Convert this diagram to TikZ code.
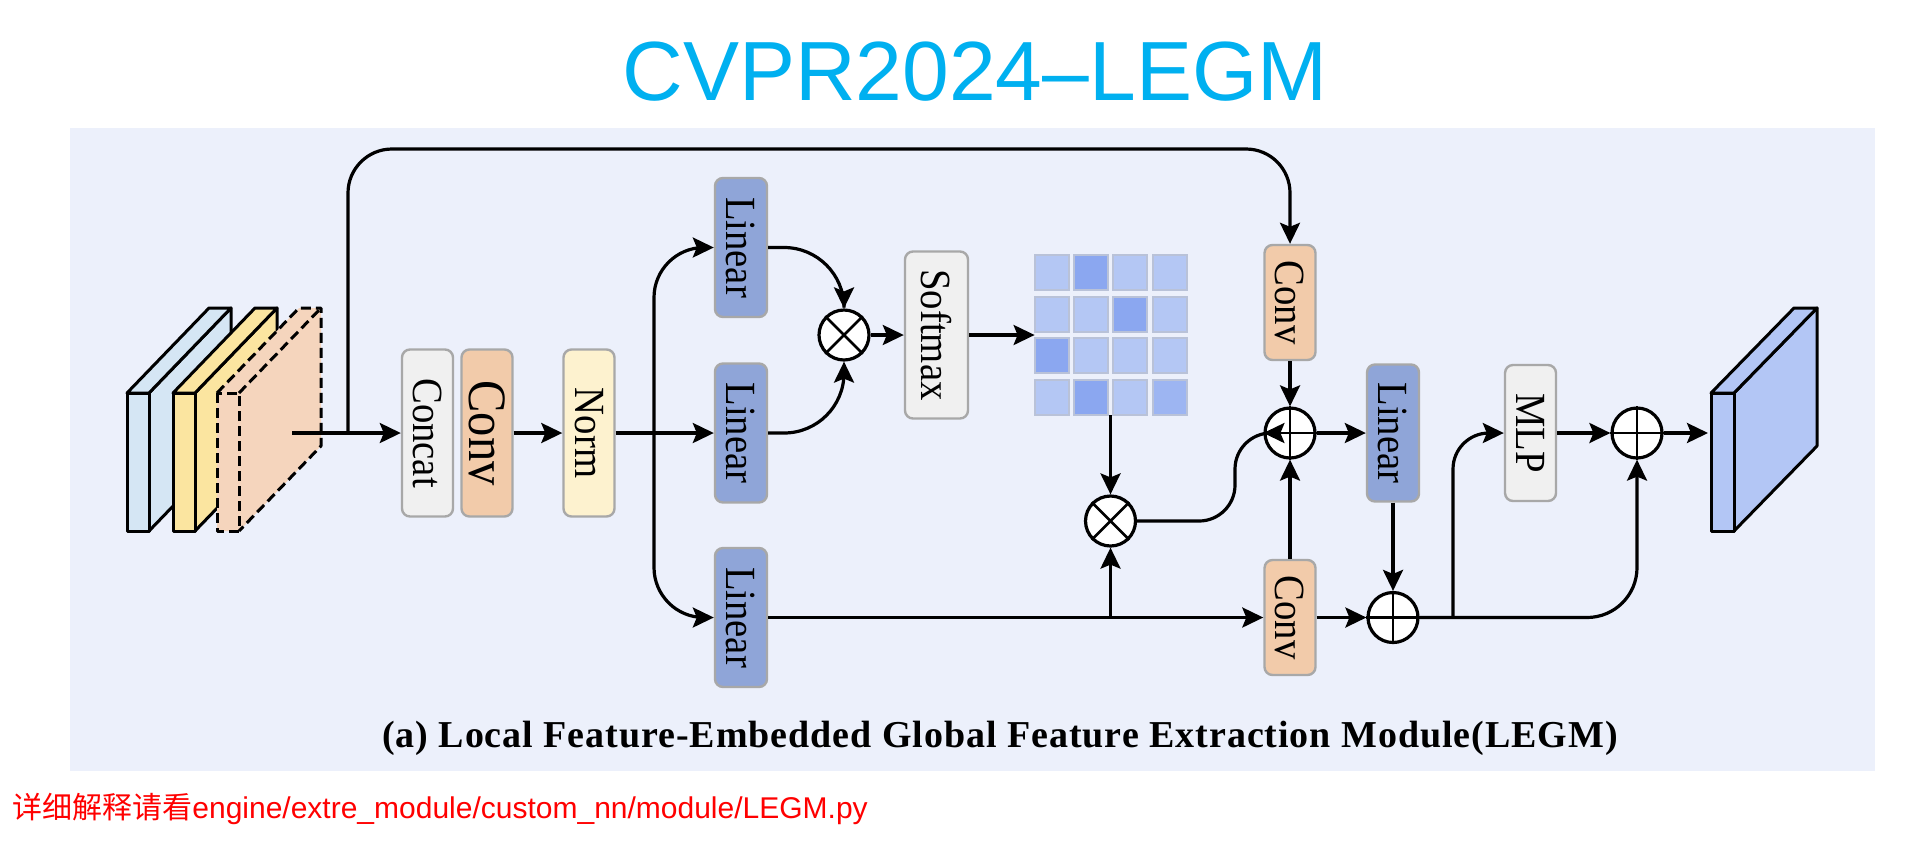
\documentclass[tikz,border=0pt]{standalone}
\usepackage{fontspec}
\setmainfont{Liberation Serif}
\newfontfamily\boxfont{Liberation Serif}[FakeStretch=0.9]
\newfontfamily\capfont{Liberation Serif}[LetterSpace=2.5]
\newfontfamily\titlefont{Liberation Sans}
\newfontfamily\redlat{Liberation Sans}
\newfontfamily\cjk{Noto Sans CJK SC}
\usetikzlibrary{arrows.meta}
\definecolor{panelbg}{HTML}{ECF0FB}
\definecolor{titlecol}{HTML}{00B0F0}
\definecolor{boxborder}{HTML}{A8A8A8}
\definecolor{grayfill}{HTML}{F0F0F0}
\definecolor{convfill}{HTML}{F2CBAA}
\definecolor{normfill}{HTML}{FDF2CF}
\definecolor{linfill}{HTML}{8FA5D8}
\definecolor{slabblue}{HTML}{D5E6F4}
\definecolor{slabyellow}{HTML}{FBE5A0}
\definecolor{slaborange}{HTML}{F5D5BD}
\definecolor{slabout}{HTML}{B3C6F5}
\definecolor{cellL}{HTML}{B4C7F4}
\definecolor{cellD}{HTML}{8BA7F0}
\definecolor{cellM}{HTML}{9DB5F2}
\definecolor{cellborder}{HTML}{B9C2D8}
\begin{document}
\begin{tikzpicture}[x=0.5pt,y=-0.5pt,
  arr/.style={-{Stealth[length=10.5pt,width=10pt,inset=2pt]}, line width=1.6pt},
  plain/.style={line width=1.6pt},
  blk/.style={draw=boxborder, line width=1.2pt, rounded corners=4pt, inner sep=0pt,
    font=\boxfont\fontsize{21.5pt}{24pt}\selectfont},
  tall/.style={blk, minimum width=25.5pt, minimum height=83.5pt},
  lin/.style={blk, fill=linfill, minimum width=26pt, minimum height=69.5pt},
  short/.style={blk, fill=convfill, minimum width=25.5pt, minimum height=57.5pt},
  opc/.style={circle, draw, fill=white, line width=1.6pt, minimum size=25pt, inner sep=0pt},
  slab/.style={line width=1.5pt, line join=round},
  dslab/.style={line width=1.5pt, dash pattern=on 5pt off 2.5pt, line join=round}
]
\useasboundingbox (0,0) rectangle (1930,848);
\fill[white] (0,0) rectangle (1930,848);
\fill[panelbg] (70,128) rectangle (1875,771);

% title
\node[anchor=base, text=titlecol, font=\titlefont\fontsize{42pt}{48pt}\selectfont, inner sep=0pt] (title) at (975,100) {CVPR2024–LEGM};

% input slabs
\filldraw[slab, fill=slabblue] (149,393) -- (231,308) -- (231,446) -- (149,531) -- cycle;
\filldraw[slab, fill=slabblue] (127,393) -- (209,308) -- (231,308) -- (149,393) -- cycle;
\filldraw[slab, fill=slabblue] (127,393) rectangle (149,531);
\filldraw[slab, fill=slabyellow] (195,393) -- (277,308) -- (277,446) -- (195,531) -- cycle;
\filldraw[slab, fill=slabyellow] (173,393) -- (255,308) -- (277,308) -- (195,393) -- cycle;
\filldraw[slab, fill=slabyellow] (173,393) rectangle (195,531);
\fill[slaborange] (217,393) -- (299,308) -- (321,308) -- (321,446) -- (239,531) -- (217,531) -- cycle;
\draw[dslab] (217,393) rectangle (239,531);
\draw[dslab] (217,393) -- (299,308) -- (321,308) -- (321,446) -- (239,531);
\draw[dslab] (239,393) -- (321,308);

% boxes
\node[tall, fill=grayfill] (concat) at (427.5,433) {\rotatebox{-90}{Concat}};
\node[tall, fill=convfill, font=\boxfont\fontsize{27pt}{30pt}\selectfont] (conv0) at (487,433) {\rotatebox{-90}{Conv}};
\node[tall, fill=normfill] (norm) at (589,433) {\rotatebox{-90}{Norm}};
\node[lin] (lin1) at (741,247.5) {\rotatebox{-90}{Linear}};
\node[lin] (lin2) at (741,433) {\rotatebox{-90}{Linear}};
\node[lin] (lin3) at (741,617.5) {\rotatebox{-90}{Linear}};
\node[blk, fill=grayfill, minimum width=31.5pt, minimum height=83.5pt] (softmax) at (936.5,335) {\rotatebox{-90}{Softmax}};
\node[short] (conv1) at (1290,302.5) {\rotatebox{-90}{Conv}};
\node[short] (conv2) at (1290,617.5) {\rotatebox{-90}{Conv}};
\node[lin, minimum height=68.5pt] (lin4) at (1393,433) {\rotatebox{-90}{Linear}};
\node[blk, fill=grayfill, minimum width=25.5pt, minimum height=68pt] (mlp) at (1530.5,433) {\rotatebox{-90}{MLP}};

% attention matrix
\node[inner sep=0pt, minimum width=75.5pt, minimum height=80pt] (mat) at (1110.5,335) {};
\foreach \row/\cols in {0/{L,D,L,L},1/{L,L,D,L},2/{D,L,L,L},3/{L,D,L,M}}{
  \foreach \c [count=\i from 0] in \cols {
    \filldraw[fill=cell\c, draw=cellborder, line width=1pt]
      ({1035+\i*39.2},{255+\row*41.5}) rectangle ++(34,35);
  }
}

% operator circles
\node[opc] (ot1) at (844,335) {};
\draw[line width=1.3pt] (ot1.north west) -- (ot1.south east) (ot1.north east) -- (ot1.south west);
\node[opc] (ot2) at (1110.5,521) {};
\draw[line width=1.3pt] (ot2.north west) -- (ot2.south east) (ot2.north east) -- (ot2.south west);
\node[opc] (op1) at (1290,433) {};
\draw[line width=1.3pt] (op1.north) -- (op1.south) (op1.west) -- (op1.east);
\node[opc] (op2) at (1393,617.5) {};
\draw[line width=1.3pt] (op2.north) -- (op2.south) (op2.west) -- (op2.east);
\node[opc] (op3) at (1637,433) {};
\draw[line width=1.3pt] (op3.north) -- (op3.south) (op3.west) -- (op3.east);

% output slab
\filldraw[slab, fill=slabout] (1734,393) -- (1817,308) -- (1817,446) -- (1734,531) -- cycle;
\filldraw[slab, fill=slabout] (1711,393) -- (1794,308) -- (1817,308) -- (1734,393) -- cycle;
\filldraw[slab, fill=slabout] (1711,393) rectangle (1734,531);

% coordinates
\coordinate (inS) at (292,433);
\coordinate (jn) at (348,433);
\coordinate (bus) at (654,433);
\coordinate (j1) at (1110.5,617.5);
\coordinate (j2) at (1453,617.5);
\coordinate (outin) at (1708,433);

% connectors
\draw[arr] (inS) -- (concat.west);
\draw[arr, rounded corners=22] (jn) -- (348,149) -- (1290,149) -- (conv1.north);
\draw[arr] (conv0.east) -- (norm.west);
\draw[arr] (norm.east) -- (lin2.west);
\draw[arr, rounded corners=25] (bus) |- (lin1.west);
\draw[arr, rounded corners=25] (bus) |- (lin3.west);
\draw[arr, rounded corners=30] (lin1.east) -| (ot1.north);
\draw[arr, rounded corners=30] (lin2.east) -| (ot1.south);
\draw[arr] (ot1.east) -- (softmax.west);
\draw[arr] (softmax.east) -- (mat.west);
\draw[arr] (mat.south) -- (ot2.north);
\draw[arr] (lin3.east) -- (conv2.west);
\draw[arr] (j1) -- (ot2.south);
\draw[arr, rounded corners=18] (ot2.east) -- (1235,521) -- (1235,433) -- (op1.west);
\draw[arr] (conv1.south) -- (op1.north);
\draw[arr] (conv2.north) -- (op1.south);
\draw[arr] (op1.east) -- (lin4.west);
\draw[arr] (lin4.south) -- (op2.north);
\draw[arr] (conv2.east) -- (op2.west);
\draw[arr, rounded corners=25] (op2.east) -| (op3.south);
\draw[arr, rounded corners=18] (j2) |- (mlp.west);
\draw[arr] (mlp.east) -- (op3.west);
\draw[arr] (op3.east) -- (outin);

% caption
\node[anchor=base, inner sep=0pt, font=\capfont\bfseries\fontsize{19pt}{22pt}\selectfont] (cap) at (1000,747) {(a) Local Feature-Embedded Global Feature Extraction Module(LEGM)};

% red note
\node[anchor=base west, inner sep=0pt, text=red, font=\fontsize{15pt}{18pt}\selectfont] (note) at (12,818) {{\cjk 详细解释请看}{\redlat engine/extre\_module/custom\_nn/module/LEGM.py}};
\end{tikzpicture}
\end{document}
